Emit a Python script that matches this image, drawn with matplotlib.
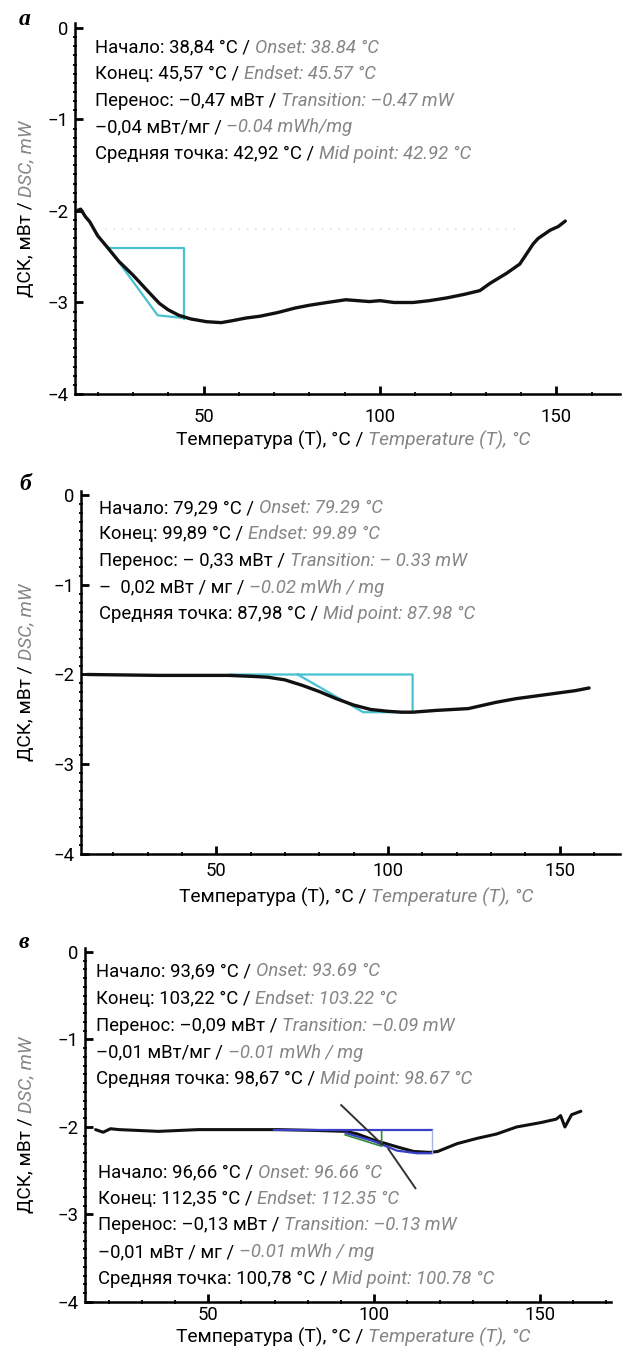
import numpy as np
import matplotlib
matplotlib.use('Agg')
import matplotlib.pyplot as plt
from matplotlib.transforms import offset_copy, blended_transform_factory
from matplotlib.ticker import MultipleLocator

# ---------------- data ----------------
a_temp = [14.5, 15.2, 16.5, 17.8, 20.0, 22.6, 26.0, 30.0, 34.8, 37.5, 40.0, 43.0, 46.4, 50.9, 55.0,
          58.0, 62.0, 66.0, 71.0, 76.0, 80.0, 85.0, 90.3, 93.7, 97.0, 100.0, 104.0, 109.4, 114.0,
          118.9, 124.0, 128.3, 131.2, 135.9, 139.6, 143.4, 144.8, 148.2, 150.5, 152.5]
a_dsc = [-1.99, -1.98, -2.06, -2.12, -2.27, -2.39, -2.55, -2.70, -2.90, -3.01, -3.08, -3.14, -3.18,
         -3.21, -3.22, -3.20, -3.17, -3.15, -3.11, -3.06, -3.03, -3.00, -2.97, -2.98, -2.99, -2.98,
         -3.00, -3.00, -2.98, -2.95, -2.91, -2.87, -2.79, -2.68, -2.58, -2.36, -2.30, -2.21, -2.17, -2.11]
a_cyan1_t = [23.0, 44.5, 44.5]
a_cyan1_y = [-2.40, -2.40, -3.18]
a_cyan2_t = [23.0, 37.0, 44.5]
a_cyan2_y = [-2.40, -3.14, -3.17]
a_faint_t = [22.0, 140.0]
a_faint_y = [-2.20, -2.20]

b_temp = [12.4, 33.2, 53.5, 60.0, 65.0, 70.0, 75.0, 80.0, 85.0, 90.0, 95.0, 100.0, 104.0, 107.2,
          114.1, 123.4, 131.5, 137.2, 143.0, 148.8, 154.6, 158.6]
b_dsc = [-2.00, -2.01, -2.01, -2.02, -2.03, -2.06, -2.12, -2.19, -2.27, -2.34, -2.39, -2.41, -2.42,
         -2.42, -2.40, -2.38, -2.31, -2.27, -2.24, -2.21, -2.18, -2.15]
b_cyan1_t = [54.0, 107.2, 107.2, 92.8, 73.7]
b_cyan1_y = [-2.00, -2.00, -2.42, -2.42, -2.00]

c_temp = [16.0, 18.3, 20.5, 23.1, 35.0, 47.0, 59.0, 71.0, 83.0, 91.4, 95.0, 100.0, 103.6, 107.2, 112.0,
          116.8, 119.2, 125.1, 131.1, 137.0, 143.0, 150.3, 155.0, 156.3, 157.6, 159.6, 162.4]
c_dsc = [-2.03, -2.06, -2.02, -2.03, -2.05, -2.03, -2.03, -2.03, -2.04, -2.05, -2.08, -2.15, -2.19, -2.23,
         -2.28, -2.29, -2.28, -2.19, -2.13, -2.08, -2.00, -1.95, -1.91, -1.87, -2.00, -1.86, -1.82]
c_blue_top_t = [69.8, 117.5]
c_blue_top_y = [-2.04, -2.04]
c_blue_low_t = [91.5, 99.7, 106.9, 112.9, 117.5]
c_blue_low_y = [-2.07, -2.16, -2.27, -2.30, -2.30]
c_blue_vert_t = [117.5, 117.5]
c_blue_vert_y = [-2.04, -2.30]
c_green_t = [91.3, 102.3, 102.3]
c_green_y = [-2.09, -2.22, -2.05]
c_tan1_t = [90.1, 102.5]
c_tan1_y = [-1.75, -2.20]
c_tan2_t = [104.3, 112.5]
c_tan2_y = [-2.25, -2.70]

yticks = [0, -1, -2, -3, -4]
ytick_labels = ['0', '\u22121', '\u22122', '\u22123', '\u22124']
xticks = [50, 100, 150]

info_a = [("Начало: 38,84 °C /", "Onset: 38.84 °C"),
          ("Конец: 45,57 °C /", "Endset: 45.57 °C"),
          ("Перенос: –0,47 мВт /", "Transition: –0.47 mW"),
          ("–0,04 мВт/мг /", "–0.04 mWh/mg"),
          ("Средняя точка: 42,92 °C /", "Mid point: 42.92 °C")]
info_b = [("Начало: 79,29 °C /", "Onset: 79.29 °C"),
          ("Конец: 99,89 °C /", "Endset: 99.89 °C"),
          ("Перенос: – 0,33 мВт /", "Transition: – 0.33 mW"),
          ("–  0,02 мВт / мг /", "–0.02 mWh / mg"),
          ("Средняя точка: 87,98 °C /", "Mid point: 87.98 °C")]
info_c1 = [("Начало: 93,69 °C /", "Onset: 93.69 °C"),
           ("Конец: 103,22 °C /", "Endset: 103.22 °C"),
           ("Перенос: –0,09 мВт /", "Transition: –0.09 mW"),
           ("–0,01 мВт/мг /", "–0.01 mWh / mg"),
           ("Средняя точка: 98,67 °C /", "Mid point: 98.67 °C")]
info_c2 = [("Начало: 96,66 °C /", "Onset: 96.66 °C"),
           ("Конец: 112,35 °C /", "Endset: 112.35 °C"),
           ("Перенос: –0,13 мВт /", "Transition: –0.13 mW"),
           ("–0,01 мВт / мг /", "–0.01 mWh / mg"),
           ("Средняя точка: 100,78 °C /", "Mid point: 100.78 °C")]

# ---------------- style ----------------
plt.rcParams['font.family'] = ['Roboto', 'DejaVu Sans']
FS = 13.3
FS_LAB = 13.8
GREY = '#858585'
CYAN = '#46c2d0'
BLUE = '#3a3fc8'
GREEN = '#2f8a3a'
W, H = 622, 1353
fig = plt.figure(figsize=(W / 100, H / 100), dpi=100)
renderer = fig.canvas.get_renderer()


def px_axes(left, right, top, bottom):
    return fig.add_axes([left / W, 1 - bottom / H, (right - left) / W, (bottom - top) / H])


def mixed(ax, x, y, parts, transform, size, ha='left', rotation=0):
    texts, widths = [], []
    for s, c, st in parts:
        t = ax.text(x, y, s, transform=transform, fontsize=size, color=c, fontstyle=st,
                    ha='left', va='baseline', rotation=rotation, rotation_mode='anchor',
                    clip_on=False)
        bb = t.get_window_extent(renderer)
        widths.append(bb.height if rotation else bb.width)
        texts.append(t)
    gap = size * fig.dpi / 72 * 0.24
    total = sum(widths) + gap * (len(parts) - 1)
    pos = -total / 2 if ha == 'center' else 0.0
    for t, w in zip(texts, widths):
        if rotation:
            t.set_transform(offset_copy(transform, fig=fig, x=0, y=pos, units='dots'))
        else:
            t.set_transform(offset_copy(transform, fig=fig, x=pos, y=0, units='dots'))
        pos += w + gap


def setup(ax, xlim, xpad):
    ax.set_xlim(*xlim)
    ax.set_ylim(-4, 0.05)
    for s in ['top', 'right']:
        ax.spines[s].set_visible(False)
    for s in ['left', 'bottom']:
        ax.spines[s].set_linewidth(1.8)
    ax.set_yticks(yticks)
    ax.set_yticklabels(ytick_labels)
    ax.set_xticks(xticks)
    ax.xaxis.set_minor_locator(MultipleLocator(10))
    ax.yaxis.set_minor_locator(MultipleLocator(0.1))
    ax.tick_params(which='major', direction='in', length=6, width=2.0, labelsize=FS)
    ax.tick_params(axis='y', which='major', pad=5)
    ax.tick_params(axis='x', which='major', pad=xpad)
    ax.tick_params(which='minor', direction='inout', length=3, width=1.3)


def labels(ax, xlab_off, ylab_x_px, panel_letter, letter_y_px):
    tr_x = offset_copy(ax.transAxes, fig=fig, x=0, y=xlab_off, units='dots')
    mixed(ax, 0.51, 0, [("Температура (T), °C /", 'black', 'normal'),
                        ("Temperature (T), °C", GREY, 'italic')], tr_x, FS_LAB, ha='center')
    tr_y = blended_transform_factory(fig.transFigure, ax.transAxes)
    mixed(ax, ylab_x_px / W, 0.5, [("ДСК, мВт /", 'black', 'normal'),
                                   ("DSC, mW", GREY, 'italic')], tr_y, FS_LAB, ha='center', rotation=90)
    fig.text(19 / W, 1 - letter_y_px / H, panel_letter, fontsize=17, fontweight='bold',
             fontstyle='italic', family=['Liberation Serif', 'DejaVu Serif'], ha='left', va='baseline')


def info(ax, x, ys, lines):
    for (blk, gry), y in zip(lines, ys):
        mixed(ax, x, y, [(blk, 'black', 'normal'), (gry, GREY, 'italic')], ax.transData, FS)


# ---------------- panel а ----------------
ax1 = px_axes(75.4, 620, 23.4, 394)
setup(ax1, (13.7, 168), 10)
ax1.plot(a_faint_t, a_faint_y, color='#dfe2ea', lw=1.2, ls=(0, (1, 4)))
ax1.plot(a_cyan1_t, a_cyan1_y, color=CYAN, lw=1.6)
ax1.plot(a_cyan2_t, a_cyan2_y, color=CYAN, lw=1.6)
ax1.plot(a_temp, a_dsc, color='#111111', lw=2.4, solid_capstyle='round', solid_joinstyle='round')
info(ax1, 19.3, [-0.27, -0.56, -0.85, -1.14, -1.43], info_a)
labels(ax1, -52, 31, 'а', 25)

# ---------------- panel б ----------------
ax2 = px_axes(81.3, 620, 490.5, 854)
setup(ax2, (10.7, 167.6), 6)
ax2.plot(b_cyan1_t, b_cyan1_y, color=CYAN, lw=1.6)
ax2.plot(b_temp, b_dsc, color='#111111', lw=2.4, solid_capstyle='round', solid_joinstyle='round')
info(ax2, 15.9, [-0.20, -0.49, -0.79, -1.09, -1.38], info_b)
labels(ax2, -49, 31, 'б', 490)

# ---------------- panel в ----------------
ax3 = px_axes(85.3, 611, 947.6, 1302)
setup(ax3, (12.9, 171.5), 3)
ax3.plot(c_temp, c_dsc, color='#111111', lw=2.2, solid_capstyle='round', solid_joinstyle='round')
ax3.plot(c_blue_top_t, c_blue_top_y, color=BLUE, lw=1.6)
ax3.plot(c_blue_low_t, c_blue_low_y, color=BLUE, lw=1.6)
ax3.plot(c_blue_vert_t, c_blue_vert_y, color='#a8b0e8', lw=1.0)
ax3.plot(c_green_t, c_green_y, color=GREEN, lw=1.2)
ax3.plot(c_tan1_t, c_tan1_y, color='#333333', lw=1.4)
ax3.plot(c_tan2_t, c_tan2_y, color='#333333', lw=1.4)
info(ax3, 16.2, [-0.28, -0.59, -0.90, -1.21, -1.51], info_c1)
info(ax3, 16.8, [-2.58, -2.88, -3.18, -3.49, -3.80], info_c2)
labels(ax3, -41, 31, 'в', 948)

fig.savefig('out.png', dpi=100)
